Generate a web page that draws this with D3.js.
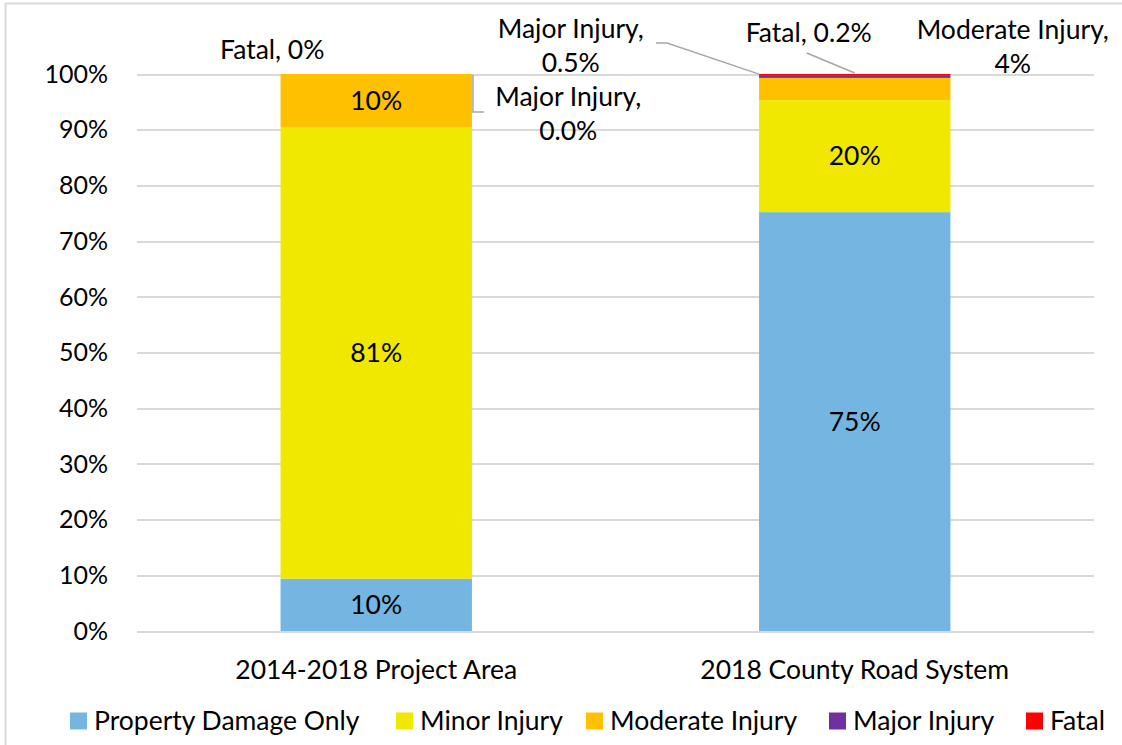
<!DOCTYPE html>
<html>
<head>
<meta charset="utf-8">
<script src="https://d3js.org/d3.v7.min.js"></script>
<style>
  body { margin: 0; background: #fff; }
  text { font-family: Lato, "Open Sans", sans-serif; fill: #000; }
  .grid line { stroke: #d9d9d9; stroke-width: 2; shape-rendering: crispEdges; }
</style>
</head>
<body>
<script>
// categories and series
var categories = ["2014-2018 Project Area", "2018 County Road System"];
var seriesNames = ["Property Damage Only", "Minor Injury", "Moderate Injury", "Major Injury", "Fatal"];
var seriesColors = ["#75b5e2", "#f0e800", "#ffc000", "#7030a0", "#ff0000"];

// percent values per series, one per category
var pdoValues = [9.4, 75.2];
var minorValues = [81.1, 20.1];
var moderateValues = [9.5, 4.0];
var majorValues = [0.0, 0.5];
var fatalValues = [0.0, 0.2];

var yTicks = [0, 10, 20, 30, 40, 50, 60, 70, 80, 90, 100];

// label text shown for each segment ("|" = line break)
var pdoLabels = ["10%", "75%"];
var minorLabels = ["81%", "20%"];
var moderateLabels = ["10%", "Moderate Injury,|4%"];
var majorLabels = ["Major Injury,|0.0%", "Major Injury,|0.5%"];
var fatalLabels = ["Fatal, 0%", "Fatal, 0.2%"];

var allValues = [pdoValues, minorValues, moderateValues, majorValues, fatalValues];
var allLabels = [pdoLabels, minorLabels, moderateLabels, majorLabels, fatalLabels];

var W = 1122, H = 745;
var margin = {top: 74, left: 137, right: 28, bottom: 114};
var fs = "26.5px";

var svg = d3.select("body").append("svg")
  .attr("width", W).attr("height", H);

// chart border
svg.append("rect")
  .attr("x", 5.5).attr("y", 3.5)
  .attr("width", W + 10).attr("height", H + 10)
  .attr("fill", "none").attr("stroke", "#d9d9d9").attr("stroke-width", 2);

var x = d3.scaleBand()
  .domain(categories)
  .range([margin.left, W - margin.right])
  .paddingInner(0.6).paddingOuter(0.3);

var y = d3.scaleLinear()
  .domain([0, 100])
  .range([H - margin.bottom, margin.top]);

// gridlines
svg.append("g")
  .attr("class", "grid")
  .attr("transform", "translate(" + margin.left + ",0)")
  .call(d3.axisLeft(y).tickValues(yTicks).tickSize(-(W - margin.right - margin.left)).tickFormat(""))
  .call(function(g) { g.select(".domain").remove(); });

// y tick labels
svg.append("g").selectAll("text")
  .data(yTicks).enter().append("text")
  .attr("x", margin.left - 29)
  .attr("y", function(d) { return y(d); })
  .attr("dy", "0.35em")
  .attr("text-anchor", "end")
  .style("font-size", "25px")
  .text(function(d) { return d + "%"; });

// stacked data
var rows = categories.map(function(c, i) {
  var r = {cat: c};
  seriesNames.forEach(function(s, k) { r[s] = allValues[k][i]; });
  return r;
});
var stacked = d3.stack().keys(seriesNames)(rows);

svg.append("g").selectAll("g")
  .data(stacked).enter().append("g")
  .attr("fill", function(d, k) { return seriesColors[k]; })
  .selectAll("rect")
  .data(function(d) { return d; }).enter().append("rect")
  .attr("x", function(d) { return x(d.data.cat); })
  .attr("y", function(d) { return y(d[1]); })
  .attr("width", x.bandwidth())
  .attr("height", function(d) { return y(d[0]) - y(d[1]); });

// inside labels: [series, category]
var inside = [[0, 0], [0, 1], [1, 0], [1, 1], [2, 0]];
inside.forEach(function(p) {
  var seg = stacked[p[0]][p[1]];
  svg.append("text")
    .attr("x", x(categories[p[1]]) + x.bandwidth() / 2)
    .attr("y", (y(seg[0]) + y(seg[1])) / 2)
    .attr("dy", "0.35em")
    .attr("text-anchor", "middle")
    .style("font-size", fs)
    .text(allLabels[p[0]][p[1]]);
});

// outside labels: [series, category, dx from bar centre, dy from segment top]
var outside = [
  [4, 0, -104, -24],
  [3, 0, 192, 23],
  [3, 1, -284, -46],
  [4, 1, -46, -41],
  [2, 1, 158, -48]
];
outside.forEach(function(p) {
  var seg = stacked[p[0]][p[1]];
  var cx = x(categories[p[1]]) + x.bandwidth() / 2 + p[2];
  var cy = y(seg[1]) + p[3];
  var lines = allLabels[p[0]][p[1]].split("|");
  lines.forEach(function(t, j) {
    svg.append("text")
      .attr("x", cx)
      .attr("y", cy + j * 34)
      .attr("dy", "0.35em")
      .attr("text-anchor", "middle")
      .style("font-size", fs)
      .text(t);
  });
});

// leader lines
var lead = d3.line();
var b0 = x(categories[0]) + x.bandwidth();
var b1 = x(categories[1]);
var c1 = x(categories[1]) + x.bandwidth() / 2;
var t0 = y(stacked[3][0][1]);
var t1 = y(stacked[3][1][1]);
var t2 = y(stacked[4][1][1]);
svg.append("path")
  .attr("d", lead([[b0 + 1, t0 + 1], [b0 + 1, t0 + 38], [b0 + 12, t0 + 38]]))
  .attr("fill", "none").attr("stroke", "#a6a6a6").attr("stroke-width", 1.5);
svg.append("path")
  .attr("d", lead([[b1 - 103, t1 - 32], [b1 - 92, t1 - 32], [b1, t1 - 1]]))
  .attr("fill", "none").attr("stroke", "#a6a6a6").attr("stroke-width", 1.5);
svg.append("path")
  .attr("d", lead([[c1 - 48, t2 - 21], [c1, t2 - 1]]))
  .attr("fill", "none").attr("stroke", "#a6a6a6").attr("stroke-width", 1.5);

// category labels
svg.append("g").selectAll("text")
  .data(categories).enter().append("text")
  .attr("x", function(d) { return x(d) + x.bandwidth() / 2; })
  .attr("y", 670)
  .attr("dy", "0.35em")
  .attr("text-anchor", "middle")
  .style("font-size", fs)
  .text(function(d) { return d; });

// legend
var legendX = [70, 396, 586, 829, 1026];
var leg = svg.append("g").selectAll("g")
  .data(seriesNames).enter().append("g")
  .attr("transform", function(d, k) { return "translate(" + legendX[k] + ",721)"; });
leg.append("rect")
  .attr("x", 0).attr("y", -8.5).attr("width", 17).attr("height", 17)
  .attr("fill", function(d, k) { return seriesColors[k]; });
leg.append("text")
  .attr("x", 24).attr("y", 0).attr("dy", "0.35em")
  .style("font-size", fs)
  .text(function(d) { return d; });
</script>
</body>
</html>
